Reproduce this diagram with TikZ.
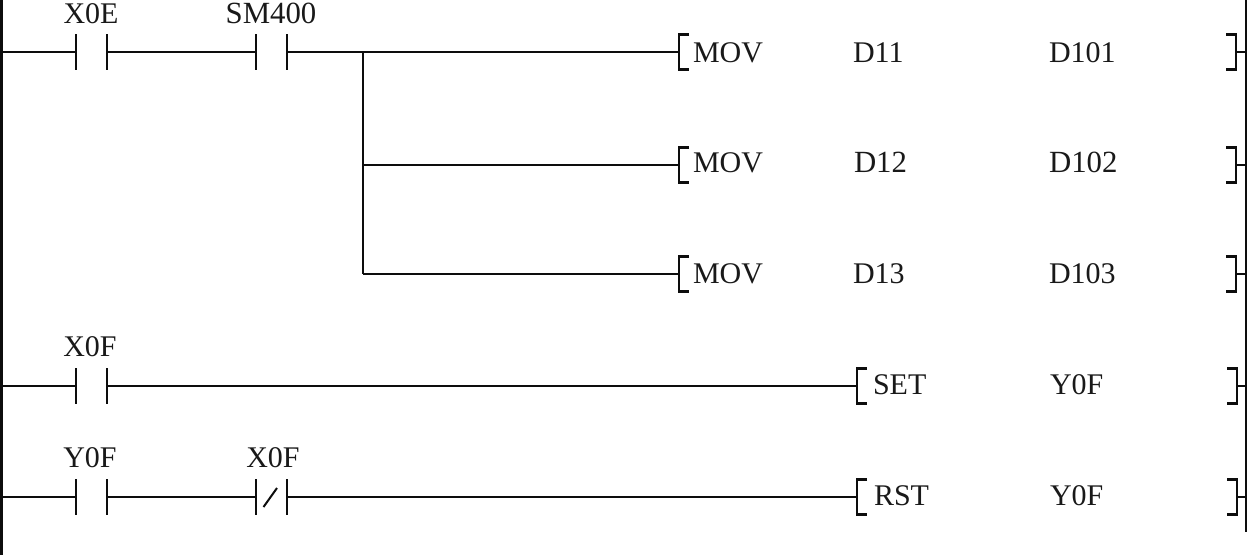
\documentclass[tikz,border=0pt]{standalone}
\usepackage{fontspec}
\setmainfont{Liberation Serif}
\newcommand{\contactat}[3]{% name, x, y
  \coordinate (#1a) at (#2,#3);
  \coordinate (#1b) at (#2+31,#3);
  \draw[wire] (#2,#3-18) -- (#2,#3+18);
  \draw[wire] (#2+31,#3-18) -- (#2+31,#3+18);
}
\newcommand{\boxat}[4]{% name, left x, right x, y
  \coordinate (#1l) at (#2,#4);
  \coordinate (#1r) at (#3,#4);
  \draw[brk] (#2+10,#4-17.5) -- (#2,#4-17.5) -- (#2,#4+17.5) -- (#2+10,#4+17.5);
  \draw[brk] (#3-10,#4-17.5) -- (#3,#4-17.5) -- (#3,#4+17.5) -- (#3-10,#4+17.5);
}
\begin{document}
\begin{tikzpicture}[x=1pt,y=-1pt,
  wire/.style={line width=2.1pt,black!95},
  brk/.style={line width=2.1pt,black!95},
  rail/.style={line width=3pt,black!95},
  txt/.style={inner sep=0pt,outer sep=0pt,anchor=base west,font=\fontsize{30}{36}\selectfont,text=black!90},
  lbl/.style={inner sep=0pt,outer sep=0pt,anchor=base,font=\fontsize{30}{36}\selectfont,text=black!90},
  wide/.style={font=\fontsize{30.8}{36}\selectfont}]
\useasboundingbox (0,0) rectangle (1247,555);
% rails
\coordinate (railLT) at (1,0);
\coordinate (railLB) at (1,555);
\coordinate (railRT) at (1246,0);
\coordinate (railRB) at (1246,532);
\draw[rail] (railLT) -- (railLB);
\draw[rail] (railRT) -- (railRB);
\coordinate (L1) at (1,52);
\coordinate (L4) at (1,386);
\coordinate (L5) at (1,497);
\coordinate (R1) at (1246,52);
\coordinate (R2) at (1246,165);
\coordinate (R3) at (1246,274);
\coordinate (R4) at (1246,386);
\coordinate (R5) at (1246,497);
\coordinate (J1) at (363,51);
\coordinate (J2) at (363,165);
\coordinate (J3) at (363,274);
% contacts
\contactat{c1}{76}{52}
\contactat{c2}{256}{52}
\contactat{c3}{76}{386}
\contactat{c4}{76}{497}
\contactat{c5}{256}{497}
\coordinate (s1) at (263.5,507);
\coordinate (s2) at (277,488);
\draw[line width=2pt,black!95] (s1) -- (s2);
% boxes
\boxat{b1}{679}{1236}{52}
\boxat{b2}{679}{1236}{165}
\boxat{b3}{679}{1236}{274}
\boxat{b4}{857}{1237}{386}
\boxat{b5}{857}{1237}{497}
% wires
\draw[wire] (L1) -- (c1a);
\draw[wire] (c1b) -- (c2a);
\draw[wire] (c2b) -- (b1l);
\draw[wire] (J1) -- (J3);
\draw[wire] (J2) -- (b2l);
\draw[wire] (J3) -- (b3l);
\draw[wire] (b1r) -- (R1);
\draw[wire] (b2r) -- (R2);
\draw[wire] (b3r) -- (R3);
\draw[wire] (L4) -- (c3a);
\draw[wire] (c3b) -- (b4l);
\draw[wire] (b4r) -- (R4);
\draw[wire] (L5) -- (c4a);
\draw[wire] (c4b) -- (c5a);
\draw[wire] (c5b) -- (b5l);
\draw[wire] (b5r) -- (R5);
% contact labels
\node[lbl] (t1) at (91,23) {X0E};
\node[lbl,wide] (t2) at (271,23) {SM400};
\node[lbl] (t3) at (90,356) {X0F};
\node[lbl] (t4) at (90,467) {Y0F};
\node[lbl] (t5) at (273,467) {X0F};
% instructions
\node[txt] (m1) at (693,62) {MOV};
\node[txt] (a1) at (853,62) {D11};
\node[txt] (d1) at (1049,62) {D101};
\node[txt] (m2) at (693,172) {MOV};
\node[txt,wide] (a2) at (854,172) {D12};
\node[txt,wide] (d2) at (1049,172) {D102};
\node[txt] (m3) at (693,283) {MOV};
\node[txt] (a3) at (853,283) {D13};
\node[txt] (d3) at (1049,283) {D103};
\node[txt] (m4) at (873,394) {SET};
\node[txt] (d4) at (1050,394) {Y0F};
\node[txt] (m5) at (874,505) {RST};
\node[txt] (d5) at (1050,505) {Y0F};
\end{tikzpicture}
\end{document}
